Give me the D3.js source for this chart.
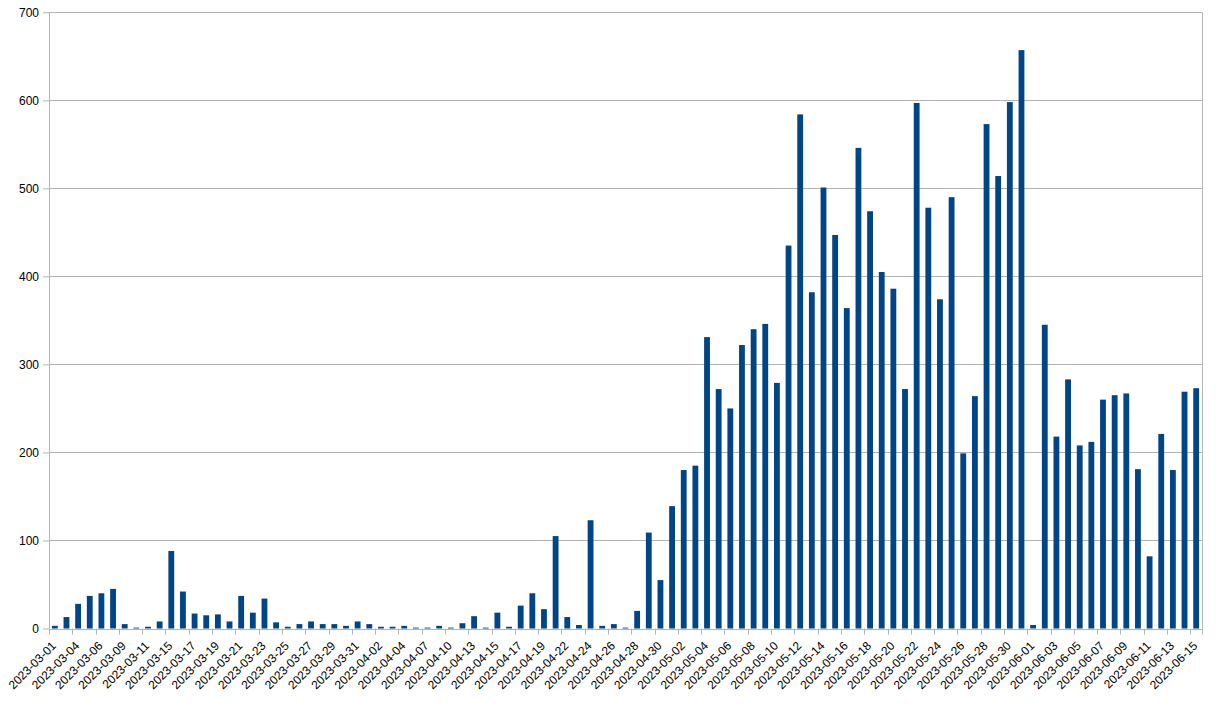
<!DOCTYPE html>
<html>
<head>
<meta charset="utf-8">
<script src="https://cdn.jsdelivr.net/npm/d3@7"></script>
<style>
  html, body { margin: 0; padding: 0; background: #fff; }
  svg { display: block; }
  text { font-family: "Liberation Sans", Arial, sans-serif; font-size: 12px; fill: #000; }
</style>
</head>
<body>
<svg id="chart" width="1224" height="714"></svg>
<script>
const dates = [
  "2023-03-01","2023-03-03","2023-03-04","2023-03-05","2023-03-06","2023-03-08","2023-03-09","2023-03-10","2023-03-11","2023-03-13",
  "2023-03-15","2023-03-16","2023-03-17","2023-03-18","2023-03-19","2023-03-20","2023-03-21","2023-03-22","2023-03-23","2023-03-24",
  "2023-03-25","2023-03-26","2023-03-27","2023-03-28","2023-03-29","2023-03-30","2023-03-31","2023-04-01","2023-04-02","2023-04-03",
  "2023-04-04","2023-04-06","2023-04-07","2023-04-08","2023-04-10","2023-04-12","2023-04-13","2023-04-14","2023-04-15","2023-04-16",
  "2023-04-17","2023-04-18","2023-04-19","2023-04-21","2023-04-22","2023-04-23","2023-04-24","2023-04-25","2023-04-26","2023-04-27",
  "2023-04-28","2023-04-29","2023-04-30","2023-05-01","2023-05-02","2023-05-03","2023-05-04","2023-05-05","2023-05-06","2023-05-07",
  "2023-05-08","2023-05-09","2023-05-10","2023-05-11","2023-05-12","2023-05-13","2023-05-14","2023-05-15","2023-05-16","2023-05-17",
  "2023-05-18","2023-05-19","2023-05-20","2023-05-21","2023-05-22","2023-05-23","2023-05-24","2023-05-25","2023-05-26","2023-05-27",
  "2023-05-28","2023-05-29","2023-05-30","2023-05-31","2023-06-01","2023-06-02","2023-06-03","2023-06-04","2023-06-05","2023-06-06",
  "2023-06-07","2023-06-08","2023-06-09","2023-06-10","2023-06-11","2023-06-12","2023-06-13","2023-06-14","2023-06-15"
];

const values = [
  3,13,28,37,40,45,5,1,2,8,
  88,42,17,15,16,8,37,18,34,7,
  2,5,8,5,5,3,8,5,2,2,
  3,1,1,3,1,6,14,1,18,2,
  26,40,22,105,13,4,123,3,5,1,
  20,109,55,139,180,185,331,272,250,322,
  340,346,279,435,584,382,501,447,364,546,
  474,405,386,272,597,478,374,490,199,264,
  573,514,598,657,4,345,218,283,208,212,
  260,265,267,181,82,221,180,269,273
];

const xTickLabels = [
  "2023-03-01","2023-03-04","2023-03-06","2023-03-09","2023-03-11","2023-03-15","2023-03-17","2023-03-19","2023-03-21","2023-03-23",
  "2023-03-25","2023-03-27","2023-03-29","2023-03-31","2023-04-02","2023-04-04","2023-04-07","2023-04-10","2023-04-13","2023-04-15",
  "2023-04-17","2023-04-19","2023-04-22","2023-04-24","2023-04-26","2023-04-28","2023-04-30","2023-05-02","2023-05-04","2023-05-06",
  "2023-05-08","2023-05-10","2023-05-12","2023-05-14","2023-05-16","2023-05-18","2023-05-20","2023-05-22","2023-05-24","2023-05-26",
  "2023-05-28","2023-05-30","2023-06-01","2023-06-03","2023-06-05","2023-06-07","2023-06-09","2023-06-11","2023-06-13","2023-06-15"
];

const yTicks = [0, 100, 200, 300, 400, 500, 600, 700];

const svg = d3.select("#chart");
const plotLeft = 49, plotRight = 1202, plotTop = 12.3, plotBottom = 628.5;
const gridColor = "#b3b3b3";
const barColor = "#004586";

const x = d3.scaleBand().domain(dates).range([plotLeft, plotRight]).paddingInner(0.5).paddingOuter(0.25);
const y = d3.scaleLinear().domain([0, 700]).range([plotBottom, plotTop]);

// y ticks + labels
const yAxis = d3.axisLeft(y).tickValues(yTicks).tickSize(6).tickPadding(4);
const gy = svg.append("g").attr("transform", `translate(${plotLeft},0)`).call(yAxis);
gy.select(".domain").remove();
gy.selectAll(".tick line").attr("stroke", gridColor);
gy.selectAll(".tick text").attr("font-family", "Liberation Sans, Arial, sans-serif").attr("font-size", 12).attr("fill", "#000");

// gridlines
svg.append("g").selectAll("line").data(yTicks).join("line")
  .attr("x1", plotLeft).attr("x2", plotRight)
  .attr("y1", d => Math.round(y(d)) + 0.5).attr("y2", d => Math.round(y(d)) + 0.5)
  .attr("stroke", gridColor).attr("stroke-width", 1);

// bars
svg.append("g").selectAll("rect").data(values).join("rect")
  .attr("x", (d, i) => x(dates[i]))
  .attr("width", x.bandwidth())
  .attr("y", d => y(d))
  .attr("height", d => y(0) - y(d))
  .attr("fill", barColor);

// frame lines
svg.append("line").attr("x1", plotLeft + 0.5).attr("x2", plotLeft + 0.5).attr("y1", plotTop).attr("y2", plotBottom)
  .attr("stroke", gridColor);
svg.append("line").attr("x1", plotRight + 0.5).attr("x2", plotRight + 0.5).attr("y1", plotTop).attr("y2", plotBottom)
  .attr("stroke", gridColor);
svg.append("line").attr("x1", plotLeft).attr("x2", plotRight).attr("y1", Math.round(plotBottom) + 0.5).attr("y2", Math.round(plotBottom) + 0.5)
  .attr("stroke", gridColor);

// x ticks at boundaries every two categories
const step = x.step();
const boundaries = d3.range(0, dates.length + 1, 2).map(k => plotLeft + k * step);
boundaries.push(plotRight);
svg.append("g").selectAll("line").data(boundaries).join("line")
  .attr("x1", d => Math.round(d) + 0.5).attr("x2", d => Math.round(d) + 0.5)
  .attr("y1", plotBottom).attr("y2", plotBottom + 6)
  .attr("stroke", gridColor);

// x labels
svg.append("g").selectAll("text").data(xTickLabels).join("text")
  .attr("transform", d => `translate(${x(d) + x.bandwidth() / 2 + 2},${plotBottom + 18}) rotate(-45)`)
  .attr("text-anchor", "end")
  .text(d => d);
</script>
</body>
</html>
